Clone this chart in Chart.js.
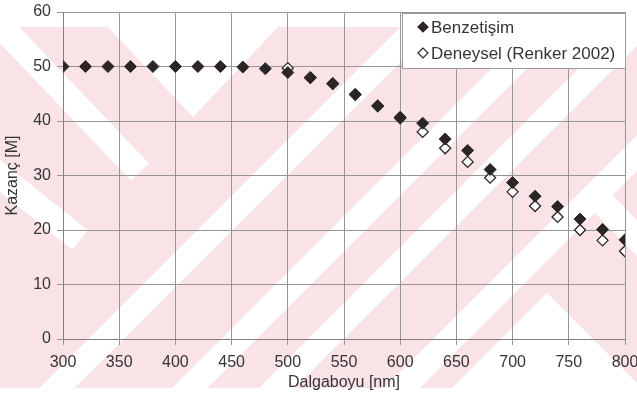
<!DOCTYPE html>
<html>
<head>
<meta charset="utf-8">
<script src="https://cdn.jsdelivr.net/npm/chart.js@4.4.1/dist/chart.umd.min.js"></script>
<style>
  html, body { margin: 0; padding: 0; background: #fff; }
  #wrap { width: 637px; height: 400px; position: relative; }
</style>
</head>
<body>
<div id="wrap"><canvas id="chart"></canvas></div>
<script>
// wavelengths (nm) and gain values
const simWavelengths = [300, 320, 340, 360, 380, 400, 420, 440, 460, 480, 500, 520, 540,
  560, 580, 600, 620, 640, 660, 680, 700, 720, 740, 760, 780, 800];
const benzetisim = [50, 50, 50, 50, 50, 50, 50, 50, 49.9, 49.6, 48.9, 48.0, 46.9,
  44.9, 42.8, 40.7, 39.6, 36.7, 34.6, 31.1, 28.7, 26.2, 24.3, 22.0, 20.1, 18.2];

const expWavelengths = [500, 520, 540, 560, 580, 600, 620, 640, 660, 680, 700, 720, 740, 760, 780, 800];
const deneysel = [49.7, 47.9, 46.8, 44.8, 42.7, 40.5, 38.0, 35.0, 32.5, 29.6, 27.0, 24.4, 22.4, 20.0, 18.1, 16.1];

const labels = ['Benzetişim', 'Deneysel (Renker 2002)'];

const toPoints = (xs, ys) => xs.map((x, i) => ({ x: x, y: ys[i] }));

const textColor = '#353535';
const gridColor = '#959595';
const markColor = '#2b2526';
const fontFamily = '"Liberation Sans", Arial, sans-serif';

// faint watermark behind the plot
const watermark = {
  id: 'watermark',
  beforeDraw(chart) {
    const ctx = chart.ctx;
    ctx.save();
    ctx.fillStyle = '#fff';
    ctx.fillRect(0, 0, chart.width, chart.height);
    ctx.beginPath();
    ctx.rect(0, 27, chart.width, 361);
    ctx.clip();
    ctx.fillStyle = '#fae3e7';
    ctx.fillRect(0, 27, chart.width, 361);
    ctx.fillStyle = '#fff';
    ctx.strokeStyle = '#fff';
    ctx.lineCap = 'butt';
    ctx.lineWidth = 25;
    const stripe = (x1, y1, x2, y2) => {
      ctx.beginPath(); ctx.moveTo(x1, y1); ctx.lineTo(x2, y2); ctx.stroke();
    };
    // V notch at the top
    ctx.beginPath();
    ctx.moveTo(108, 27); ctx.lineTo(193, 117); ctx.lineTo(278, 27); ctx.closePath(); ctx.fill();
    // "\" bands on the left
    stripe(0, 25, 140, 172);
    stripe(-20, 160, 80, 240);
    // "/" bands at 45 degrees
    [445, 578, 665, 790].forEach(c => stripe(c - 400, 400, c, 0));
    // peak at the bottom right
    ctx.beginPath();
    ctx.moveTo(452, 388); ctx.lineTo(547, 293); ctx.lineTo(642, 388); ctx.closePath(); ctx.fill();
    stripe(600, 200, 660, 262);
    ctx.restore();
  }
};

// boxed legend in the upper right corner of the plot
const boxLegend = {
  id: 'boxLegend',
  afterDatasetsDraw(chart) {
    const ctx = chart.ctx;
    const area = chart.chartArea;
    const w = 224, h = 56;
    const x0 = area.right - w + 1, y0 = area.top + 1;
    ctx.save();
    ctx.fillStyle = '#fff';
    ctx.fillRect(x0, y0, w, h);
    ctx.strokeStyle = '#9a9a9a';
    ctx.lineWidth = 1;
    ctx.strokeRect(x0 + 0.5, y0 + 0.5, w - 1, h - 1);
    ctx.font = '17px ' + fontFamily;
    ctx.textBaseline = 'middle';
    chart.data.datasets.forEach((ds, i) => {
      const cy = y0 + 14 + i * 26;
      const cx = x0 + 21;
      const r = 5;
      ctx.beginPath();
      ctx.moveTo(cx - r, cy); ctx.lineTo(cx, cy - r); ctx.lineTo(cx + r, cy); ctx.lineTo(cx, cy + r);
      ctx.closePath();
      ctx.fillStyle = ds.backgroundColor;
      ctx.fill();
      ctx.strokeStyle = ds.borderColor;
      ctx.lineWidth = 1.2;
      ctx.stroke();
      ctx.fillStyle = textColor;
      ctx.fillText(ds.label, x0 + 29, cy + 1);
    });
    ctx.restore();
  }
};

new Chart(document.getElementById('chart'), {
  type: 'scatter',
  data: {
    datasets: [{
      label: labels[0],
      data: toPoints(simWavelengths, benzetisim),
      pointStyle: 'rectRot',
      pointRadius: 6,
      pointHoverRadius: 6,
      backgroundColor: markColor,
      borderColor: markColor,
      borderWidth: 1
    }, {
      label: labels[1],
      data: toPoints(expWavelengths, deneysel),
      pointStyle: 'rectRot',
      pointRadius: 5.5,
      pointHoverRadius: 5.5,
      backgroundColor: '#fff',
      borderColor: markColor,
      borderWidth: 1.3
    }]
  },
  options: {
    responsive: true,
    maintainAspectRatio: false,
    animation: false,
    layout: { padding: { top: 12, right: 12, left: 0, bottom: 0 } },
    plugins: {
      legend: { display: false },
      tooltip: { enabled: false }
    },
    scales: {
      x: {
        type: 'linear',
        min: 300,
        max: 800,
        ticks: {
          stepSize: 50,
          color: textColor,
          padding: 8,
          font: { family: fontFamily, size: 16 }
        },
        grid: { color: gridColor, tickLength: 6 },
        border: { color: '#808080' },
        title: {
          display: true,
          text: 'Dalgaboyu [nm]',
          color: textColor,
          padding: { top: 0, bottom: 8 },
          font: { family: fontFamily, size: 16 }
        },
        afterFit: (scale) => {
          scale.height = 61;
          scale.paddingLeft = 0;
          scale.paddingRight = 0;
        }
      },
      y: {
        min: 0,
        max: 60,
        ticks: {
          stepSize: 10,
          color: textColor,
          padding: 6,
          font: { family: fontFamily, size: 16 }
        },
        grid: { color: gridColor, tickLength: 6 },
        border: { color: '#808080' },
        title: {
          display: true,
          text: 'Kazanç [M]',
          color: textColor,
          padding: { top: 3, bottom: 0 },
          font: { family: fontFamily, size: 16 }
        },
        afterFit: (scale) => {
          scale.width = 63;
          scale.paddingTop = 0;
          scale.paddingBottom = 0;
        }
      }
    }
  },
  plugins: [watermark, boxLegend]
});
</script>
</body>
</html>
